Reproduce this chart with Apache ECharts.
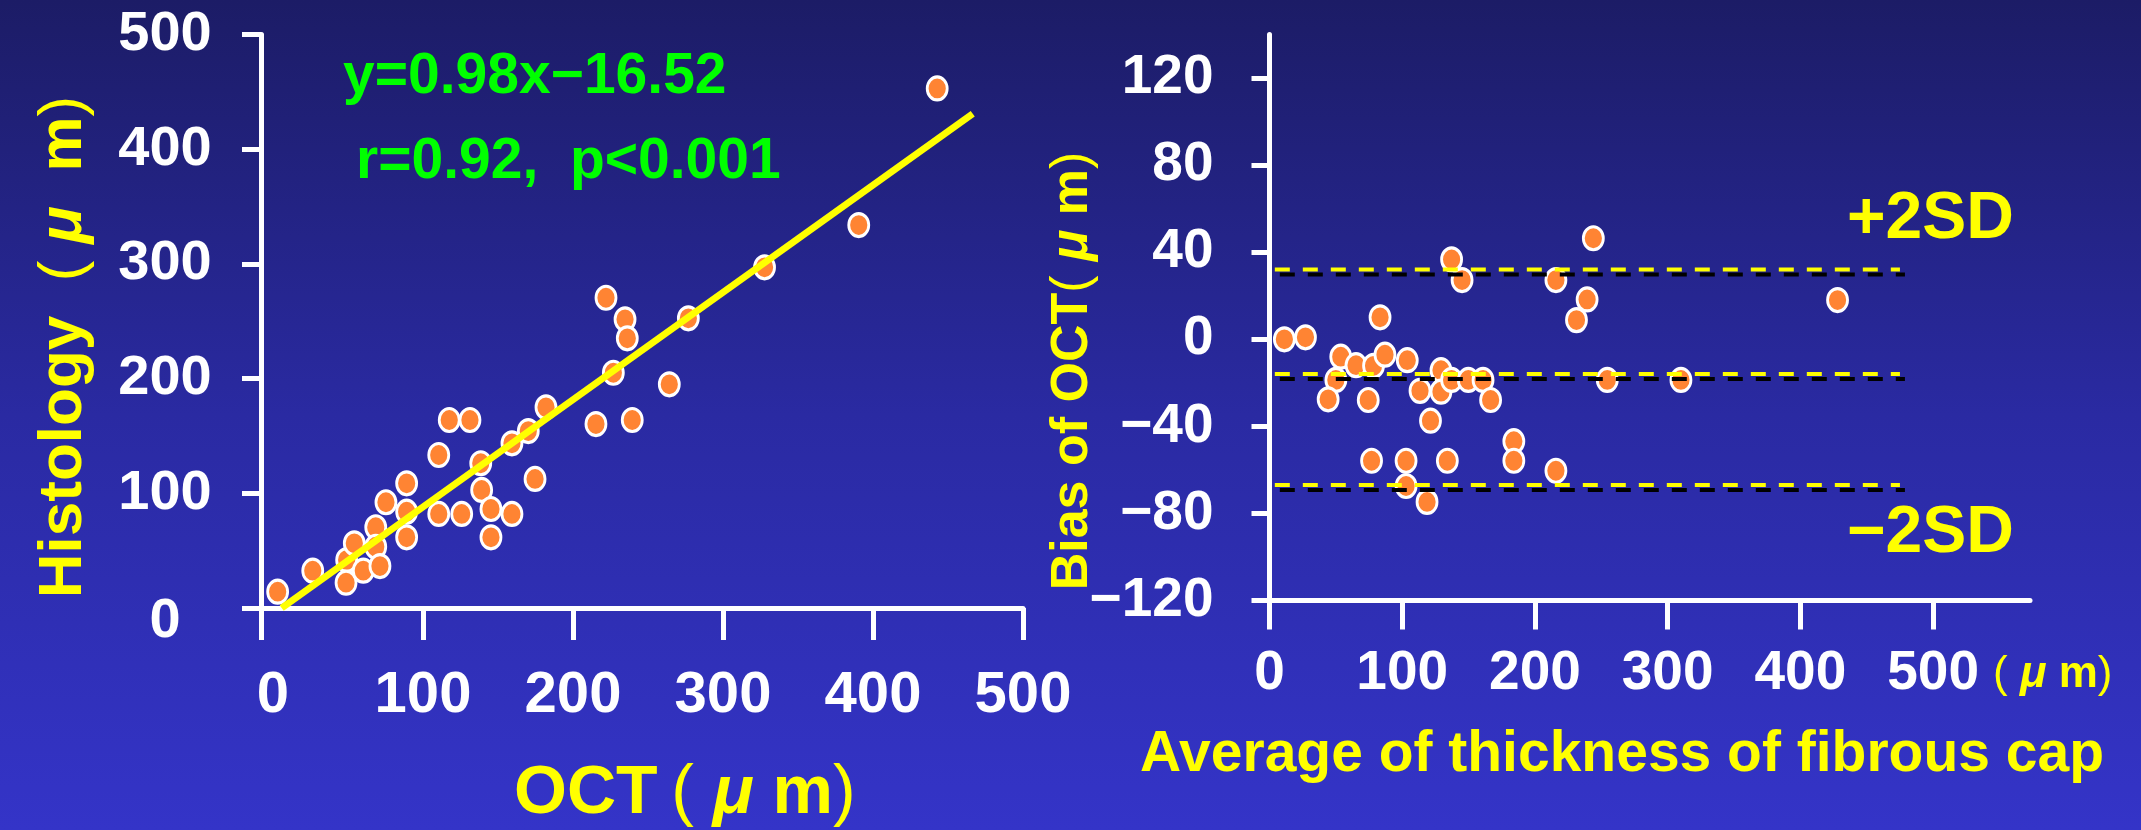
<!DOCTYPE html>
<html>
<head>
<meta charset="utf-8">
<style>
  html, body { margin: 0; padding: 0; }
  #chart { width: 2141px; height: 830px; }
</style>
<script src="https://cdn.jsdelivr.net/npm/echarts@6/dist/echarts.min.js"></script>
</head>
<body>
<div id="chart"></div>
<script>
// left panel: OCT vs histology thickness (um)
const octHistology = [
  [3.1, 14.2], [26.5, 32.5], [49.1, 41.8], [54.2, 56.4], [48.7, 22.1], [60.2, 32.5],
  [68.5, 70.4], [68.5, 53.4], [71.3, 36.6], [75.3, 92.2], [89.1, 108.7], [89.1, 84.0],
  [89.1, 61.6], [110.5, 133.4], [110.5, 82.0], [117.5, 163.9], [131.3, 163.9], [125.8, 82.0],
  [138.5, 126.2], [139.1, 102.9], [145.3, 86.3], [145.3, 61.6], [159.3, 82.0], [159.3, 143.6],
  [170.2, 154.3], [174.7, 112.5], [182.0, 175.0], [215.3, 160.4], [222.0, 270.5], [234.7, 251.7],
  [236.2, 235.1], [226.9, 205.1], [239.5, 163.9], [264.2, 195.0], [276.9, 252.6], [327.7, 297.0],
  [390.5, 333.9], [442.8, 453.0]
];
// ends of the drawn regression line
const fitLine = [[5.8, 0], [466.5, 430.9]];
const leftXLabels = [0, 100, 200, 300, 400, 500];
const leftXTicks = [-8, 100, 200, 300, 400, 500];
const leftYTicks = [0, 100, 200, 300, 400, 500];

// right panel: Bland-Altman, average vs bias
const avgBias = [
  [11.2, 0], [27.1, 0.9], [53.7, -8.0], [65.2, -11.9], [78.4, -12.2], [87.0, -7.1],
  [103.8, -9.6], [83.3, 10.1], [50.0, -18.7], [44.2, -27.6], [74.4, -27.9], [113.4, -23.7],
  [129.2, -14.2], [129.2, -24.1], [137.2, -18.7], [149.8, -18.7], [160.9, -18.7], [166.6, -27.9],
  [121.3, -37.4], [137.2, 36.7], [145.1, 27.2], [76.9, -55.8], [102.9, -55.8], [134.0, -55.8],
  [184.1, -46.8], [184.1, -55.8], [215.8, -60.4], [102.9, -67.4], [118.7, -74.7], [215.8, 27.2],
  [239.3, 18.3], [231.3, 8.8], [244.0, 46.4], [254.5, -18.7], [310.0, -18.7], [428.0, 18.0]
];
const limitSpan = [4, 475];
const plus2SD = 32;
const meanBias = -16;
const minus2SD = -67;
const rightXTicks = [0, 100, 200, 300, 400, 500];
const rightYTicks = [-120, -80, -40, 0, 40, 80, 120];

const FONT = "'Liberation Sans', Arial, sans-serif";
const YELLOW = '#ffff00';
const shadow = { textShadowColor: '#000', textShadowOffsetX: 4, textShadowOffsetY: 4, textShadowBlur: 0 };

const white = { color: '#fff', width: 5 };
const minus = v => String(v).replace('-', '\u2212');

const chart = echarts.init(document.getElementById('chart'));

const dot = {
  type: 'scatter',
  symbol: 'circle',
  symbolSize: [20, 23],
  itemStyle: { color: '#ff8433', borderColor: '#fff', borderWidth: 3, opacity: 1 },
  z: 3
};

function limitLine(v) {
  return {
    type: 'line', xAxisIndex: 1, yAxisIndex: 1, symbol: 'none', z: 4,
    data: [[limitSpan[0], v], [limitSpan[1], v]],
    lineStyle: {
      color: YELLOW, width: 4, type: [15, 13],
      shadowColor: '#000', shadowOffsetX: 5, shadowOffsetY: 5, shadowBlur: 0
    }
  };
}

function label(x, y, text, size, color) {
  return {
    type: 'text', x: x, y: y, z: 10,
    style: Object.assign({
      text: text, fill: color, fontFamily: FONT, fontWeight: 'bold', fontSize: size,
      align: 'left', verticalAlign: 'middle'
    }, shadow)
  };
}

// unit styles: bold words, thin parens, italic mu
function unitRich(size, key) {
  const base = { fontFamily: FONT, fontSize: size };
  base[key] = YELLOW;
  return {
    t: Object.assign({ fontWeight: 'bold' }, base, shadow),
    p: Object.assign({ fontWeight: 'normal' }, base, shadow),
    mu: Object.assign({ fontWeight: 'bold', fontStyle: 'italic' }, base, shadow)
  };
}

function titleText(x, y, text, size, rot) {
  return {
    type: 'text', x: x, y: y, rotation: rot || 0, z: 10,
    style: {
      text: text,
      rich: unitRich(size, 'fill'),
      align: rot ? 'center' : 'left', verticalAlign: 'middle'
    }
  };
}

const tickFont = { fontFamily: FONT, fontWeight: 'bold', color: '#fff' };

const option = {
  animation: false,
  backgroundColor: new echarts.graphic.LinearGradient(0, 0, 0, 1, [
    { offset: 0, color: '#1c1c66' },
    { offset: 0.5, color: '#2a2aa2' },
    { offset: 1, color: '#3434c8' }
  ]),
  grid: [
    { left: 261, top: 34.5, width: 762, height: 573.5 },
    { left: 1269.5, top: 34.5, width: 760.5, height: 566 }
  ],
  xAxis: [
    {
      gridIndex: 0, type: 'value', min: -8, max: 500,
      axisLine: { onZero: false, lineStyle: white },
      axisTick: { customValues: leftXTicks, length: 32, lineStyle: white },
      axisLabel: Object.assign({ customValues: leftXLabels, margin: 59, fontSize: 58, showMaxLabel: true }, tickFont, shadow),
      splitLine: { show: false }
    },
    {
      gridIndex: 1, type: 'value', min: 0, max: 573,
      name: '{p|(}{mu| \u03bc}{t| m}{p|)}',
      nameLocation: 'end',
      nameGap: -37,
      nameTextStyle: {
        align: 'left', verticalAlign: 'top', padding: [52, 0, 0, 0],
        rich: unitRich(44, 'color')
      },
      axisLine: { onZero: false, lineStyle: white },
      axisTick: { customValues: rightXTicks, length: 29, lineStyle: white },
      axisLabel: Object.assign({
        customValues: rightXTicks, margin: 46, fontSize: 55, showMaxLabel: true
      }, tickFont, shadow),
      splitLine: { show: false }
    }
  ],
  yAxis: [
    {
      gridIndex: 0, type: 'value', min: 0, max: 500,
      axisLine: { show: true, onZero: false, lineStyle: white },
      axisTick: { show: true, customValues: leftYTicks, length: 19, lineStyle: white },
      axisLabel: Object.assign({
        customValues: leftYTicks, margin: 96, align: 'center', fontSize: 56,
        showMinLabel: true, showMaxLabel: true,
        formatter: v => v === 0 ? '{z|0}' : String(v),
        rich: {
          z: Object.assign({ padding: [28, 0, 0, 0], fontSize: 56 }, tickFont, shadow)
        }
      }, tickFont, shadow),
      splitLine: { show: false }
    },
    {
      gridIndex: 1, type: 'value', min: -120, max: 140,
      axisLine: { show: true, onZero: false, lineStyle: white },
      axisTick: { show: true, customValues: rightYTicks, length: 18, lineStyle: white },
      axisLabel: Object.assign({
        customValues: rightYTicks, margin: 56, align: 'right', fontSize: 55,
        showMinLabel: true,
        formatter: minus
      }, tickFont, shadow),
      splitLine: { show: false }
    }
  ],
  series: [
    Object.assign({ xAxisIndex: 0, yAxisIndex: 0, data: octHistology }, dot),
    {
      type: 'line', xAxisIndex: 0, yAxisIndex: 0, symbol: 'none', z: 5,
      data: fitLine,
      lineStyle: { color: YELLOW, width: 7 }
    },
    Object.assign({ xAxisIndex: 1, yAxisIndex: 1, data: avgBias }, dot),
    limitLine(plus2SD),
    limitLine(meanBias),
    limitLine(minus2SD)
  ],
  graphic: [
    label(343, 77, 'y=0.98x\u221216.52', 57, '#00ff00'),
    label(356, 162, 'r=0.92,  p<0.001', 57, '#00ff00'),
    label(1847, 220, '+2SD', 66, YELLOW),
    label(1847, 534, '\u22122SD', 66, YELLOW),
    label(1140, 755, 'Average of thickness of fibrous cap', 57, YELLOW),
    titleText(514, 794, '{t|OCT}{p|\u2009(}{mu| \u03bc}{t| m}{p|)}', 68),
    titleText(64, 347, '{t|Histology}{p|  (}{mu| \u03bc}{t|  m}{p|)}', 62, Math.PI / 2),
    titleText(1073, 371, '{t|Bias of OCT}{p|(}{mu| \u03bc}{t| m}{p|)}', 52, Math.PI / 2)
  ]
};

chart.setOption(option);
</script>
</body>
</html>
